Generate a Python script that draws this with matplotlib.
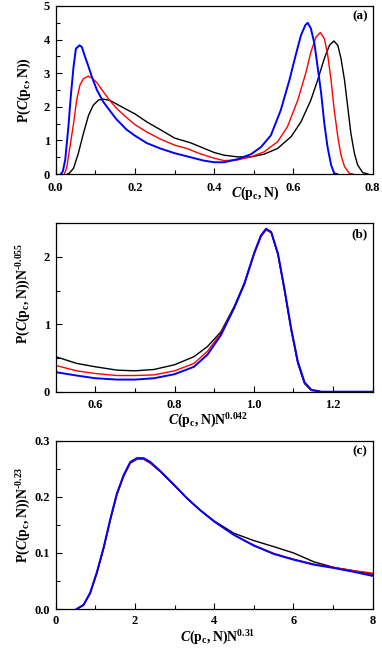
import matplotlib
matplotlib.use('Agg')
import matplotlib.pyplot as plt
from matplotlib.ticker import MultipleLocator, FormatStrFormatter

# panel (a): raw distributions
aBlackX = [0.030, 0.034, 0.045, 0.057, 0.070, 0.083, 0.095, 0.108, 0.120, 0.137,
           0.154, 0.179, 0.200, 0.230, 0.264, 0.300, 0.340, 0.373, 0.400, 0.425,
           0.459, 0.493, 0.526, 0.560, 0.594, 0.619, 0.644, 0.661, 0.678, 0.691,
           0.702, 0.712, 0.720, 0.729, 0.737, 0.745, 0.754, 0.762, 0.775, 0.788]
aBlackY = [0.00, 0.02, 0.17, 0.61, 1.21, 1.75, 2.05, 2.20, 2.23, 2.19,
           2.08, 1.92, 1.79, 1.55, 1.32, 1.07, 0.93, 0.77, 0.64, 0.56,
           0.51, 0.51, 0.59, 0.76, 1.11, 1.55, 2.20, 2.79, 3.44, 3.83,
           3.96, 3.83, 3.44, 2.79, 2.00, 1.21, 0.61, 0.27, 0.04, 0.00]

aRedX = [0.022, 0.028, 0.036, 0.045, 0.053, 0.061, 0.070, 0.082, 0.091, 0.104,
         0.120, 0.137, 0.154, 0.179, 0.200, 0.230, 0.264, 0.300, 0.331, 0.365,
         0.400, 0.425, 0.459, 0.493, 0.526, 0.560, 0.585, 0.611, 0.632, 0.644,
         0.657, 0.668, 0.678, 0.686, 0.695, 0.703, 0.712, 0.720, 0.729, 0.741, 0.750]
aRedY = [0.00, 0.20, 0.81, 1.50, 2.20, 2.64, 2.84, 2.91, 2.86, 2.72,
         2.45, 2.18, 1.95, 1.68, 1.47, 1.25, 1.04, 0.86, 0.76, 0.60,
         0.47, 0.40, 0.42, 0.51, 0.66, 0.96, 1.41, 2.20, 3.04, 3.63,
         4.08, 4.21, 4.03, 3.58, 2.79, 1.90, 1.11, 0.56, 0.22, 0.02, 0.00]

aBlueX = [0.013, 0.018, 0.024, 0.032, 0.038, 0.045, 0.051, 0.060, 0.066, 0.074,
          0.083, 0.091, 0.104, 0.120, 0.137, 0.154, 0.179, 0.200, 0.230, 0.264,
          0.300, 0.340, 0.373, 0.400, 0.425, 0.459, 0.493, 0.518, 0.543, 0.568,
          0.590, 0.606, 0.619, 0.630, 0.636, 0.644, 0.653, 0.661, 0.670, 0.678,
          0.686, 0.695, 0.703, 0.710]
aBlueY = [0.00, 0.08, 0.42, 1.40, 2.30, 3.19, 3.73, 3.83, 3.78, 3.49,
          3.19, 2.90, 2.50, 2.15, 1.88, 1.62, 1.32, 1.14, 0.92, 0.76,
          0.62, 0.50, 0.40, 0.35, 0.35, 0.44, 0.59, 0.80, 1.15, 1.90,
          2.80, 3.55, 4.13, 4.43, 4.50, 4.33, 3.88, 3.19, 2.40, 1.50,
          0.81, 0.27, 0.02, 0.00]

# panel (b): scaled around the right peak
bX = [0.500, 0.553, 0.600, 0.655, 0.700, 0.748, 0.800, 0.849, 0.883, 0.917,
      0.951, 0.976, 1.001, 1.018, 1.031, 1.044, 1.061, 1.077, 1.094, 1.111,
      1.128, 1.145, 1.170, 1.300]
bBlackY = [0.52, 0.42, 0.37, 0.32, 0.31, 0.33, 0.40, 0.52, 0.67, 0.89,
           1.27, 1.61, 2.06, 2.31, 2.41, 2.36, 2.03, 1.51, 0.92, 0.42,
           0.12, 0.02, 0.00, 0.00]
bRedY = [0.39, 0.31, 0.27, 0.24, 0.24, 0.25, 0.31, 0.42, 0.60, 0.87,
         1.25, 1.59, 2.04, 2.30, 2.40, 2.36, 2.04, 1.53, 0.94, 0.44,
         0.13, 0.02, 0.00, 0.00]
bBlueY = [0.29, 0.24, 0.20, 0.18, 0.18, 0.20, 0.26, 0.37, 0.55, 0.84,
          1.25, 1.60, 2.06, 2.32, 2.42, 2.37, 2.05, 1.54, 0.95, 0.45,
          0.14, 0.03, 0.00, 0.00]

# panel (c): scaled around the left peak
cX = [0.53, 0.70, 0.87, 1.04, 1.21, 1.38, 1.54, 1.71, 1.88, 2.05,
      2.22, 2.39, 2.64, 2.98, 3.32, 3.65, 4.00, 4.50, 5.00, 5.51,
      6.00, 6.52, 7.03, 7.54, 8.00]
cBlackY = [0.000, 0.007, 0.028, 0.064, 0.108, 0.159, 0.203, 0.236, 0.260, 0.267,
           0.267, 0.260, 0.245, 0.221, 0.197, 0.176, 0.157, 0.135, 0.122, 0.111,
           0.100, 0.084, 0.074, 0.068, 0.062]
cRedY = [0.000, 0.007, 0.028, 0.064, 0.108, 0.159, 0.203, 0.236, 0.260, 0.267,
         0.267, 0.260, 0.245, 0.221, 0.197, 0.176, 0.156, 0.132, 0.114, 0.099,
         0.089, 0.080, 0.074, 0.068, 0.064]
cBlueY = [0.000, 0.007, 0.029, 0.066, 0.110, 0.161, 0.205, 0.238, 0.262, 0.269,
          0.269, 0.262, 0.246, 0.222, 0.197, 0.176, 0.156, 0.132, 0.113, 0.098,
          0.088, 0.079, 0.073, 0.066, 0.059]

plt.rcParams['font.family'] = 'Liberation Serif'
plt.rcParams['font.weight'] = 'bold'
plt.rcParams['mathtext.fontset'] = 'custom'
plt.rcParams['mathtext.rm'] = 'Liberation Serif:bold'
plt.rcParams['mathtext.it'] = 'Liberation Serif:bold:italic'
plt.rcParams['mathtext.bf'] = 'Liberation Serif:bold'

C = r'\mathit{C}\mathrm{(p}_\mathrm{c}\mathrm{,N)}'
HYPH = '\u2010'   # short hyphen, not the wide math minus


def StyleAxes(ax, xlim, ylim, xmaj, xmin, ymaj, ymin, tag, xpad=5.5):
    ax.set_xlim(*xlim)
    ax.set_ylim(*ylim)
    ax.xaxis.set_major_locator(MultipleLocator(xmaj))
    ax.xaxis.set_minor_locator(MultipleLocator(xmin))
    ax.yaxis.set_major_locator(MultipleLocator(ymaj))
    ax.yaxis.set_minor_locator(MultipleLocator(ymin))
    ax.tick_params(which='both', direction='in', top=False, right=False,
                   labelsize=9, width=0.8)
    ax.tick_params(which='major', length=4.5)
    ax.tick_params(which='minor', length=3)
    ax.tick_params(axis='x', which='major', pad=xpad)
    ax.tick_params(axis='y', which='major', pad=4)
    for sp in ax.spines.values():
        sp.set_linewidth(0.9)
    ax.text(0.984, 0.972, tag, transform=ax.transAxes, ha='right', va='top',
            fontsize=9.5, fontweight='bold')


def main():
    fig = plt.figure(figsize=(3.82, 6.51), dpi=100)
    axA = fig.add_axes([0.1458, 0.7327, 0.8298, 0.2581])
    axB = fig.add_axes([0.1458, 0.3983, 0.8298, 0.2587])
    axC = fig.add_axes([0.1458, 0.0645, 0.8298, 0.2585])

    axA.plot(aBlackX, aBlackY, color='black', lw=1.0)
    axA.plot(aRedX, aRedY, color='red', lw=1.0)
    axA.plot(aBlueX, aBlueY, color='blue', lw=1.4)
    StyleAxes(axA, (0, 0.8), (0, 5), 0.2, 0.1, 1, 0.5, '(a)')
    axA.set_xlabel(r'$' + C + '$', fontsize=10)
    axA.xaxis.set_label_coords(0.63, -0.065)
    axA.set_ylabel(r'$\mathrm{P(}' + C + r'\mathrm{)}$', fontsize=10)
    axA.yaxis.set_label_coords(-0.072, 0.5)

    axB.plot(bX, bBlackY, color='black', lw=1.0)
    axB.plot(bX, bRedY, color='red', lw=1.0)
    axB.plot(bX, bBlueY, color='blue', lw=1.4)
    StyleAxes(axB, (0.5, 1.3), (0, 2.5), 0.2, 0.1, 1, 0.5, '(b)')
    axB.set_xlabel(r'$' + C + r'\mathrm{N}^{\mathrm{0.042}}$', fontsize=10)
    axB.xaxis.set_label_coords(0.48, -0.118)
    axB.set_ylabel(r'$\mathrm{P(}' + C + r'\mathrm{)N}^{\mathrm{' + HYPH + '0.055}}$',
                   fontsize=10)
    axB.yaxis.set_label_coords(-0.072, 0.586)

    axC.plot(cX, cBlackY, color='black', lw=1.0)
    axC.plot(cX, cRedY, color='red', lw=1.0)
    axC.plot(cX, cBlueY, color='blue', lw=1.4)
    StyleAxes(axC, (0, 8), (0, 0.3), 2, 1, 0.1, 0.05, '(c)', xpad=4.5)
    axC.yaxis.set_major_formatter(FormatStrFormatter('%.1f'))
    axC.set_xlabel(r'$' + C + r'\mathrm{N}^{\mathrm{0.31}}$', fontsize=10)
    axC.xaxis.set_label_coords(0.51, -0.115)
    axC.set_ylabel(r'$\mathrm{P(}' + C + r'\mathrm{)N}^{\mathrm{' + HYPH + '0.23}}$',
                   fontsize=10)
    axC.yaxis.set_label_coords(-0.072, 0.56)

    fig.savefig('out.png', dpi=100)


if __name__ == '__main__':
    main()
